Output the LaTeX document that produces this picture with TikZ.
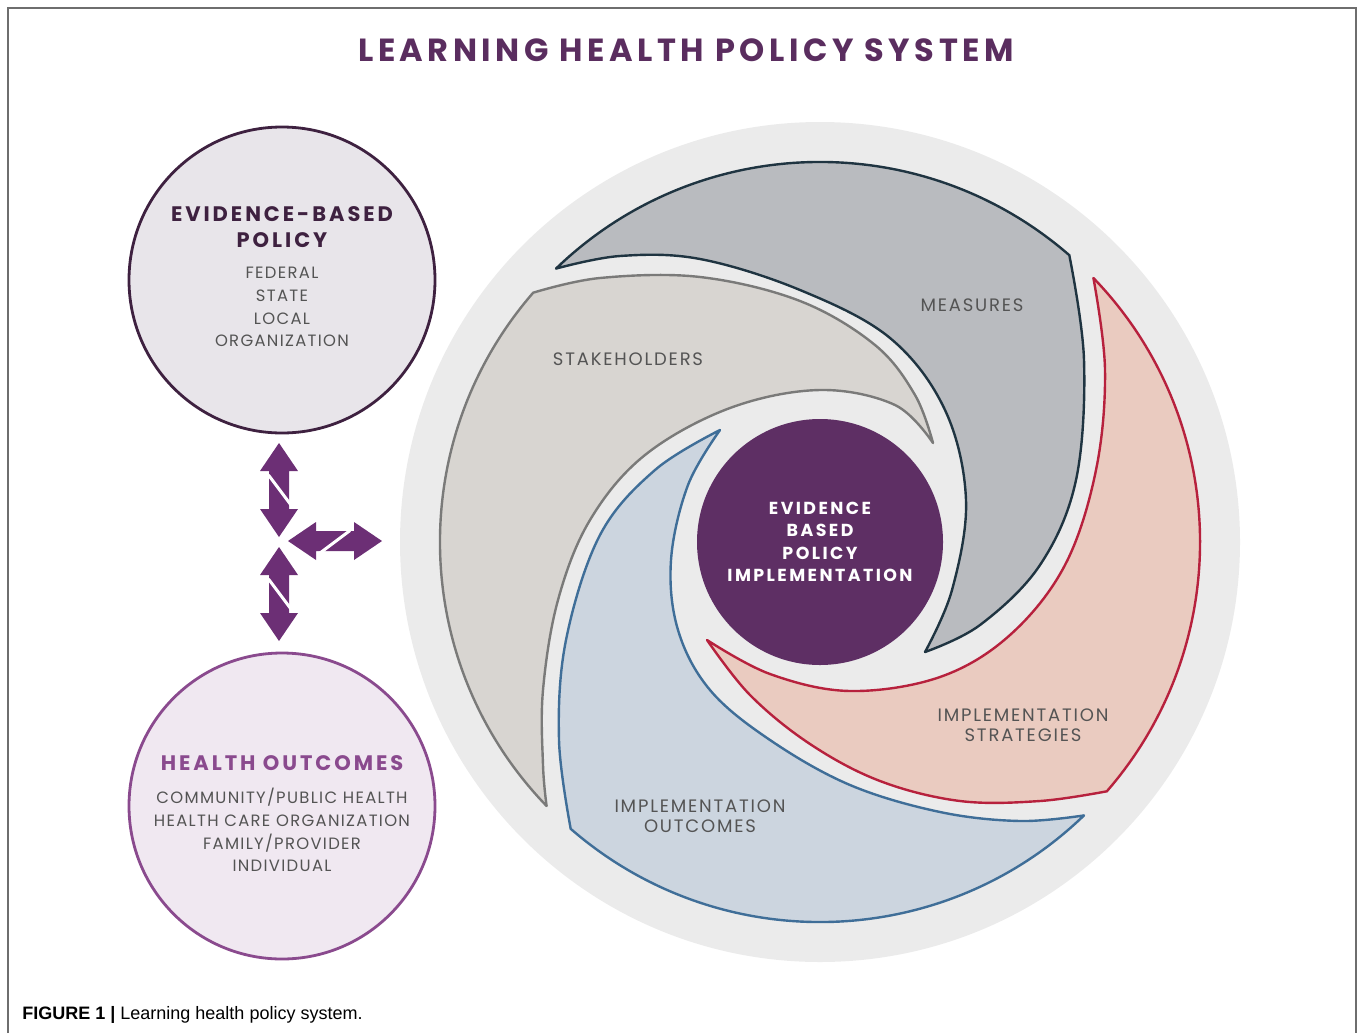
\documentclass[tikz,border=0pt]{standalone}
\usepackage{fontspec}
\setmainfont{Poppins}
\newfontfamily\headfont[LetterSpace=14]{Poppins}
\newfontfamily\bodyfont[LetterSpace=8]{Poppins}
\newfontfamily\labelfont[LetterSpace=10]{Poppins}
\newfontfamily\capfont{Liberation Sans}
\usepackage{tikz}

\begin{document}
\begin{tikzpicture}[x = 0.5pt,
                    y = -0.5pt]


  % COLORS
  \definecolor{framegray}{rgb}{ 0.43,0.43,0.43 }
  \definecolor{titlepurple}{rgb}{ 0.353,0.176,0.373 }
  \definecolor{policydark}{rgb}{ 0.243,0.129,0.251 }
  \definecolor{policyfill}{rgb}{ 0.910,0.898,0.918 }
  \definecolor{outcomepurple}{rgb}{ 0.541,0.290,0.557 }
  \definecolor{outcomefill}{rgb}{ 0.941,0.910,0.945 }
  \definecolor{arrowpurple}{rgb}{ 0.424,0.184,0.459 }
  \definecolor{ringgray}{rgb}{ 0.922,0.922,0.922 }
  \definecolor{measfill}{rgb}{ 0.725,0.733,0.749 }
  \definecolor{measdraw}{rgb}{ 0.122,0.204,0.255 }
  \definecolor{stakefill}{rgb}{ 0.847,0.835,0.820 }
  \definecolor{stakedraw}{rgb}{ 0.478,0.478,0.475 }
  \definecolor{stratfill}{rgb}{ 0.918,0.796,0.753 }
  \definecolor{stratdraw}{rgb}{ 0.718,0.129,0.239 }
  \definecolor{outcfill}{rgb}{ 0.800,0.835,0.875 }
  \definecolor{outcdraw}{rgb}{ 0.247,0.431,0.596 }
  \definecolor{corepurple}{rgb}{ 0.369,0.184,0.392 }
  \definecolor{labelgray}{rgb}{ 0.33,0.33,0.33 }


  % STYLES
  \tikzstyle{framestyle} = [draw=framegray, line width=1pt]
  \tikzstyle{titlestyle} = [text=titlepurple, font=\headfont\bfseries\fontsize{16}{19}\selectfont, inner sep=0pt]
  \tikzstyle{headstyle} = [font=\headfont\bfseries\fontsize{10.5}{13}\selectfont, align=center, inner sep=0pt]
  \tikzstyle{substyle} = [text=labelgray, font=\bodyfont\fontsize{8.2}{11.35}\selectfont, align=center, inner sep=0pt]
  \tikzstyle{policycircle} = [circle, minimum size=153pt, fill=policyfill, draw=policydark, line width=1.4pt]
  \tikzstyle{outcomecircle} = [circle, minimum size=153pt, fill=outcomefill, draw=outcomepurple, line width=1.4pt]
  \tikzstyle{corecircle} = [circle, minimum size=123pt, inner sep=0pt, fill=corepurple, text=white, align=center, font=\headfont\bfseries\fontsize{8.7}{11.15}\selectfont]
  \tikzstyle{bladestyle} = [line width=1.2pt, line join=round]
  \tikzstyle{measstyle} = [bladestyle, fill=measfill, draw=measdraw]
  \tikzstyle{stakestyle} = [bladestyle, fill=stakefill, draw=stakedraw]
  \tikzstyle{stratstyle} = [bladestyle, fill=stratfill, draw=stratdraw]
  \tikzstyle{outcstyle} = [bladestyle, fill=outcfill, draw=outcdraw]
  \tikzstyle{edgeplot} = [smooth, tension=0.6]
  \tikzstyle{labelstyle} = [text=labelgray, font=\labelfont\fontsize{9}{10}\selectfont, align=center, inner sep=0pt]
  \tikzset{dblarrow/.pic={
      \fill[arrowpurple] (-47,0) -- (-19,-19) -- (-19,-10) -- (19,-10) -- (19,-19) -- (47,0)
                         -- (19,19) -- (19,10) -- (-19,10) -- (-19,19) -- cycle;
      \draw[white, line width=1.5pt] (-17,13.5) -- (15,-10.5);
  }}


  \useasboundingbox (0,0) rectangle (1358,1033);

  % FRAME
  \draw[framestyle] (8,1033) -- (8,8) -- (1356,8) -- (1356,1033);

  % TITLE
  \node[titlestyle] (title) at (686,50) {LEARNING HEALTH POLICY SYSTEM};


  % LEFT CIRCLES
  \node[policycircle] (policy) at (282,280) {};
  \node[headstyle, text=policydark] (policyhead) at (282,227) {EVIDENCE-BASED\\POLICY};
  \node[substyle] (policylevels) at (282,307) {FEDERAL\\STATE\\LOCAL\\ORGANIZATION};

  \node[outcomecircle] (health) at (282,806) {};
  \node[headstyle, text=outcomepurple] (healthhead) at (282,763) {HEALTH OUTCOMES};
  \node[substyle] (healthlevels) at (282,830) {COMMUNITY/PUBLIC HEALTH\\HEALTH CARE ORGANIZATION\\FAMILY/PROVIDER\\INDIVIDUAL};


  % ARROWS
  \pic[rotate=90] (uparrow) at (279,490) {dblarrow};
  \pic (rightarrow) at (335,541) {dblarrow};
  \pic[rotate=90] (downarrow) at (279,594) {dblarrow};


  % RING
  \fill[ringgray] (820,542) circle[radius=210pt];


  % DEF POINTS
  \coordinate (tail_meas) at (556.0,268.6);
  \coordinate (corner_meas) at (1069.3,255.2);
  \coordinate (tip_meas) at (925,652);
  \coordinate (tail_stake) at (546.6,806.0);
  \coordinate (corner_stake) at (533.2,292.7);
  \coordinate (tip_stake) at (933,443);
  \coordinate (tail_strat) at (1093.4,278.0);
  \coordinate (corner_strat) at (1106.8,791.3);
  \coordinate (tip_strat) at (707,640);
  \coordinate (tail_outc) at (1084.0,815.4);
  \coordinate (corner_outc) at (570.7,828.8);
  \coordinate (tip_outc) at (720,430);


  % BLADES (outer arc, head edge, inner edge)
  \draw[measstyle] (tail_meas) arc[start angle=134, end angle=49, radius=190pt]
    -- plot[edgeplot] coordinates {(corner_meas) (1084,360) (1076,480) (1040,565) (980,625) (tip_meas)}
    -- plot[edgeplot] coordinates {(tip_meas) (952,590) (966,500) (945,410) (890,338) (800,290) (700,259) (620,256) (tail_meas)}
    -- cycle;

  \draw[stakestyle] (tail_stake) arc[start angle=224, end angle=139, radius=190pt]
    -- plot[edgeplot] coordinates {(corner_stake) (600,278) (700,277) (800,301) (875,345) (915,395) (tip_stake)}
    -- plot[edgeplot] coordinates {(tip_stake) (895,405) (820,390) (730,408) (645,455) (590,520) (558,600) (543,690) (543,765) (tail_stake)}
    -- cycle;

  \draw[stratstyle] (tail_strat) arc[start angle=44, end angle=-41, radius=190pt]
    -- plot[edgeplot] coordinates {(corner_strat) (1040,801) (960,801) (880,781) (810,744) (750,695) (tip_strat)}
    -- plot[edgeplot] coordinates {(tip_strat) (770,674) (850,691) (940,677) (1010,635) (1065,565) (1096,470) (1105,370) (tail_strat)}
    -- cycle;

  \draw[outcstyle] (tail_outc) arc[start angle=314, end angle=229, radius=190pt]
    -- plot[edgeplot] coordinates {(corner_outc) (559,740) (566,640) (600,535) (655,470) (tip_outc)}
    -- plot[edgeplot] coordinates {(tip_outc) (688,485) (671,560) (678,630) (710,690) (770,740) (850,785) (940,812) (1020,821) (tail_outc)}
    -- cycle;


  % CENTER
  \node[corecircle] (core) at (820,542) {EVIDENCE\\BASED\\POLICY\\IMPLEMENTATION};


  % BLADE LABELS
  \node[labelstyle] (measures) at (972,305) {MEASURES};
  \node[labelstyle] (stakeholders) at (628,359) {STAKEHOLDERS};
  \node[labelstyle] (strategies) at (1023,725) {IMPLEMENTATION\\STRATEGIES};
  \node[labelstyle] (outcomes) at (700,816) {IMPLEMENTATION\\OUTCOMES};


  % CAPTION
  \node[anchor=west, inner sep=0pt, font=\capfont\fontsize{9}{11}\selectfont] (caption) at (22,1015) {\textbf{FIGURE 1 |} Learning health policy system.};

\end{tikzpicture}
\end{document}
